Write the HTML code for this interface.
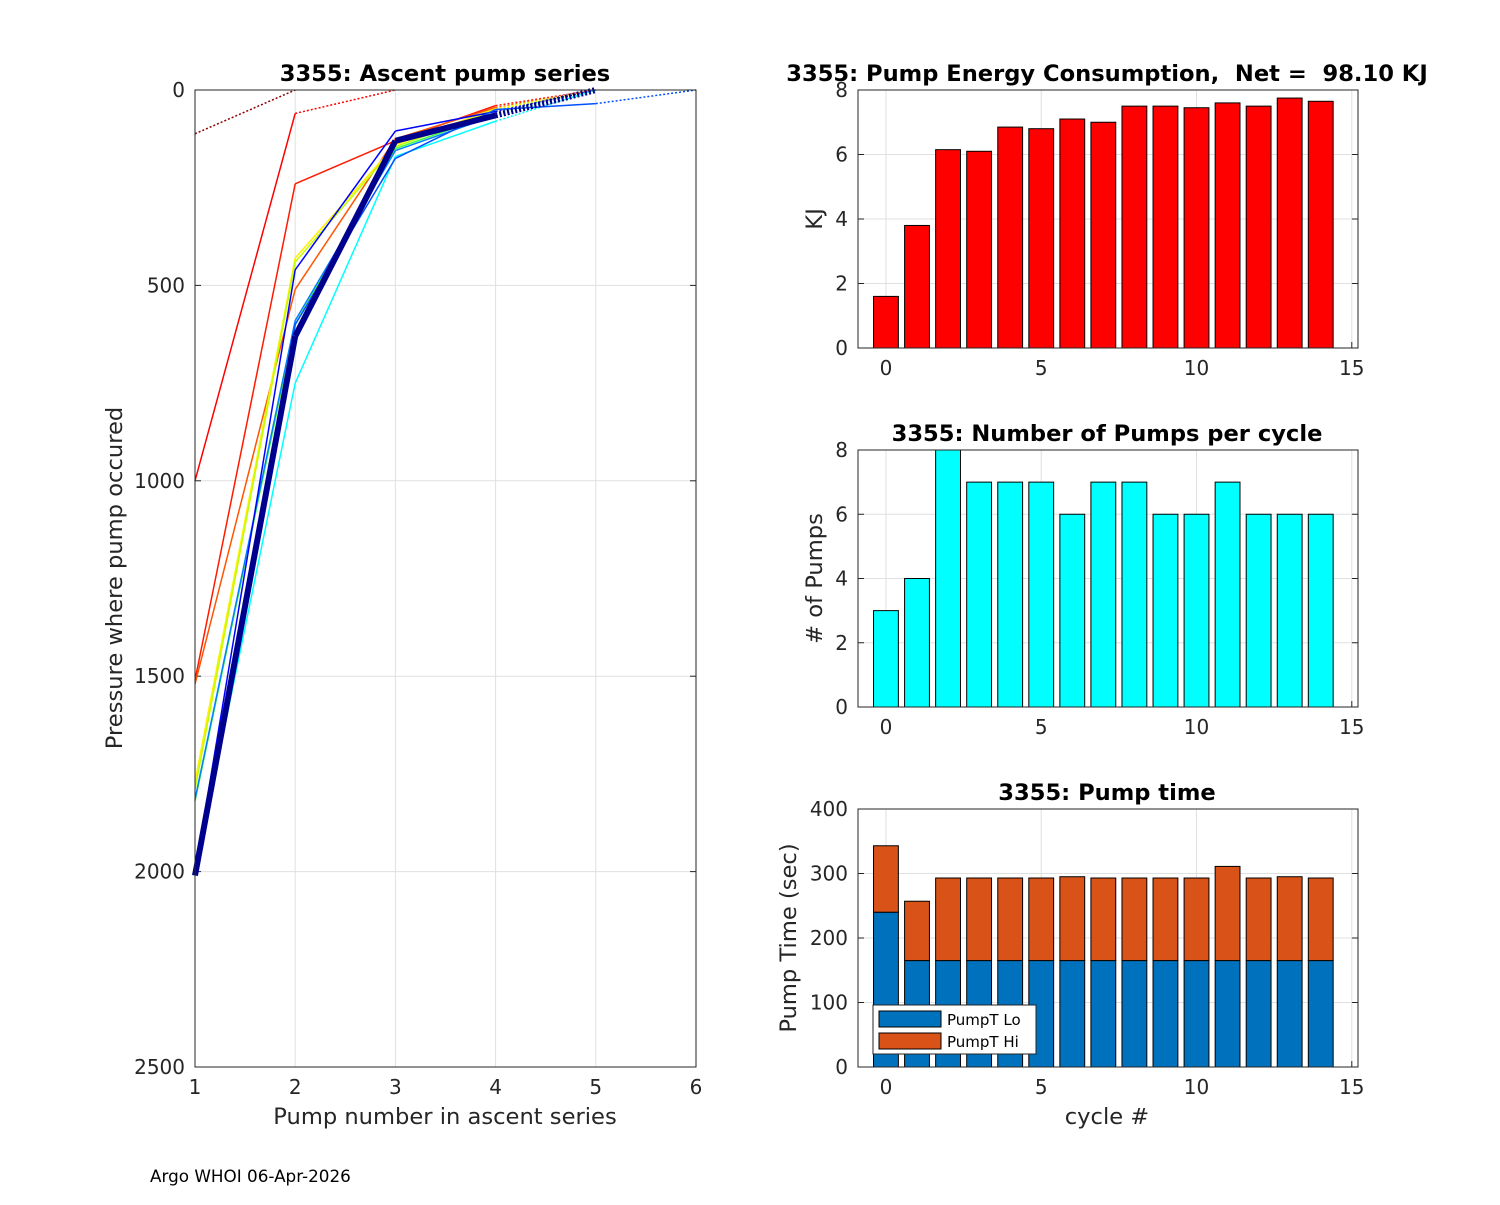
<!DOCTYPE html>
<html><head><meta charset="utf-8"><style>
body{margin:0;background:#fff}
svg{font-family:"DejaVu Sans","Liberation Sans",sans-serif}
text{white-space:pre}
</style></head><body>
<svg id="s" width="1500" height="1200" viewBox="0 0 1500 1200" xmlns="http://www.w3.org/2000/svg">
<rect width="1500" height="1200" fill="#fff"/>
<text x="150" y="1182" font-size="16.8" fill="#000">Argo WHOI 06-Apr-2026</text>
</svg>
<script>
// ----- data -----
const cycles=[0,1,2,3,4,5,6,7,8,9,10,11,12,13,14];
const energy=[1.6,3.8,6.15,6.1,6.85,6.8,7.1,7.0,7.5,7.5,7.45,7.6,7.5,7.75,7.65];
const pumps=[3,4,8,7,7,7,6,7,7,6,6,7,6,6,6];
const pumpLo=[240,165,165,165,165,165,165,165,165,165,165,165,165,165,165];
const pumpTotal=[343,257,293,293,293,293,295,293,293,293,293,311,293,295,293];
const ascentSeries=[
 [112,0],
 [1000,60,0],
 [1510,240,130,40,0],
 [1520,510,125,45,0],
 [1770,430,140,48,0],
 [1790,440,145,52,0],
 [1820,600,150,60,0],
 [1815,590,155,65,0],
 [2000,460,105,55,0],
 [2000,750,170,80,0],
 [2000,600,175,50,35,0],
 [2010,630,130,65,0]
];
const seriesColors=['#8b0000','#ff0000','#ff1a00','#ff5500','#ffee00','#bfff00','#40ff40','#0080ff','#0000ff','#00ffff','#0050ff','#00008f'];
const seriesWidths=[1.5,1.5,1.5,1.5,1.5,1.5,1.5,1.5,1.5,1.5,1.5,6];
const leftXTicks=[1,2,3,4,5,6];
const leftYTicks=[0,500,1000,1500,2000,2500];
const cycTicks=[0,5,10,15];
// ----- helpers -----
const S=document.getElementById('s');const NS='http://www.w3.org/2000/svg';
function mk(t,a,p){const e=document.createElementNS(NS,t);for(const k in a)e.setAttribute(k,a[k]);(p||S).appendChild(e);return e;}
function txt(x,y,s,o,p){const e=mk('text',Object.assign({x:x,y:y,'font-size':20,fill:'#262626'},o||{}),p);e.textContent=s;return e;}
const TF=22.6;
// ----- left chart -----
const L={x0:195,x1:696,y0:90,y1:1067};
const lx=v=>L.x0+(v-1)/5*(L.x1-L.x0);
const ly=v=>L.y0+v/2500*(L.y1-L.y0);
const gL=mk('g',{});


leftXTicks.forEach(t=>{mk('line',{x1:lx(t),x2:lx(t),y1:L.y0,y2:L.y1,stroke:'#e0e0e0'},gL);
 const e=txt(lx(t),L.y1+27,String(t),{'text-anchor':'middle'},gL);});
leftYTicks.forEach(t=>{mk('line',{x1:L.x0,x2:L.x1,y1:ly(t),y2:ly(t),stroke:'#e0e0e0'},gL);
 const e=txt(L.x0-10,ly(t)+7,String(t),{'text-anchor':'end'});
 mk('line',{x1:L.x0,x2:L.x0+6,y1:ly(t),y2:ly(t),stroke:'#262626'});mk('line',{x1:L.x1,x2:L.x1-6,y1:ly(t),y2:ly(t),stroke:'#262626'});});
ascentSeries.forEach((s,i)=>{
 const g=mk('g',{});
 
 
 for(let k=0;k<s.length-1;k++){
  const last=(k===s.length-2);
  mk('line',{x1:lx(k+1),y1:ly(s[k]),x2:lx(k+2),y2:ly(s[k+1]),stroke:seriesColors[i],'stroke-width':seriesWidths[i],'stroke-dasharray':last?'2,2':'none','stroke-linecap':'butt'},g);
 }
});
mk('rect',{x:L.x0,y:L.y0,width:L.x1-L.x0,height:L.y1-L.y0,fill:'none',stroke:'#262626'});
let e=txt(445,81,'3355: Ascent pump series',{'text-anchor':'middle','font-weight':'bold',fill:'#000','font-size':TF});
e=txt(445,1124,'Pump number in ascent series',{'text-anchor':'middle','font-size':TF});
e=txt(0,0,'Pressure where pump occured',{'text-anchor':'middle','font-size':TF,transform:'translate(122,578) rotate(-90)'});
// ----- right bar charts -----
const R={x0:858,x1:1358,xmin:-0.9,xmax:15.2};
const rx=v=>R.x0+(v-R.xmin)/(R.xmax-R.xmin)*(R.x1-R.x0);
const bw=0.8*(R.x1-R.x0)/(R.xmax-R.xmin);
function panel(y0,y1,ymax,yticks,name,title,ytitle,tx){
 const ry=v=>y1-v/ymax*(y1-y0);
 cycTicks.forEach(t=>{mk('line',{x1:rx(t),x2:rx(t),y1:y0,y2:y1,stroke:'#e0e0e0'});
  mk('line',{x1:rx(t),x2:rx(t),y1:y1,y2:y1-6,stroke:'#262626'});
  const e=txt(rx(t),y1+27,String(t),{'text-anchor':'middle'});});
 yticks.forEach(t=>{mk('line',{x1:R.x0,x2:R.x1,y1:ry(t),y2:ry(t),stroke:'#e0e0e0'});
  mk('line',{x1:R.x0,x2:R.x0+6,y1:ry(t),y2:ry(t),stroke:'#262626'});mk('line',{x1:R.x1,x2:R.x1-6,y1:ry(t),y2:ry(t),stroke:'#262626'});
  const e=txt(R.x0-10,ry(t)+7,String(t),{'text-anchor':'end'});});
 let e=txt(1107,y0-9,title,{'text-anchor':'middle','font-weight':'bold',fill:'#000','font-size':TF});
 e=txt(0,0,ytitle,{'text-anchor':'middle','font-size':TF,transform:`translate(${tx},${(y0+y1)/2}) rotate(-90)`});
 return ry;
}
function frame(y0,y1){mk('rect',{x:R.x0,y:y0,width:R.x1-R.x0,height:y1-y0,fill:'none',stroke:'#262626'});}
// energy
let ry=panel(90,348,8,[0,2,4,6,8],'energy-chart','3355: Pump Energy Consumption,  Net =  98.10 KJ','KJ',822);
cycles.forEach((c,i)=>{const b=mk('rect',{x:rx(c)-bw/2,y:ry(energy[i]),width:bw,height:ry(0)-ry(energy[i]),fill:'#ff0000',stroke:'#000'});
 });
frame(90,348);
// pumps
ry=panel(450,707,8,[0,2,4,6,8],'pumps-chart','3355: Number of Pumps per cycle','# of Pumps',822);
cycles.forEach((c,i)=>{const b=mk('rect',{x:rx(c)-bw/2,y:ry(pumps[i]),width:bw,height:ry(0)-ry(pumps[i]),fill:'#00ffff',stroke:'#000'});
 });
frame(450,707);
// pump time
ry=panel(809,1067,400,[0,100,200,300,400],'pump-time-chart','3355: Pump time','Pump Time (sec)',796);
cycles.forEach((c,i)=>{
 const a=mk('rect',{x:rx(c)-bw/2,y:ry(pumpLo[i]),width:bw,height:ry(0)-ry(pumpLo[i]),fill:'#0072bd',stroke:'#000'});
 
 const b=mk('rect',{x:rx(c)-bw/2,y:ry(pumpTotal[i]),width:bw,height:ry(pumpLo[i])-ry(pumpTotal[i]),fill:'#d95319',stroke:'#000'});
 });
frame(809,1067);
e=txt(1107,1124,'cycle #',{'text-anchor':'middle','font-size':TF});
const lg=mk('g',{});


mk('rect',{x:873,y:1005,width:163,height:49,fill:'#fff',stroke:'#262626'},lg);
mk('rect',{x:879,y:1011,width:62,height:16,fill:'#0072bd',stroke:'#000'},lg);
mk('rect',{x:879,y:1033,width:62,height:16,fill:'#d95319',stroke:'#000'},lg);
e=txt(947,1025,'PumpT Lo',{'font-size':15,fill:'#000'},lg);
e=txt(947,1047,'PumpT Hi',{'font-size':15,fill:'#000'},lg);
</script>
</body></html>
